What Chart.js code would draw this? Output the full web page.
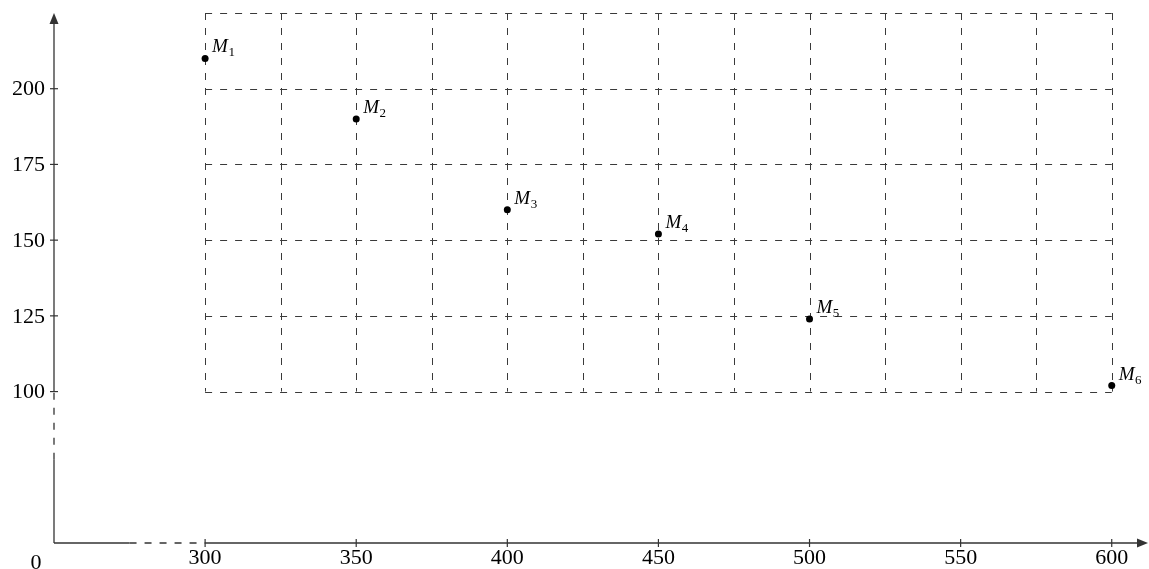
<!DOCTYPE html>
<html>
<head>
<meta charset="utf-8">
<script src="https://cdn.jsdelivr.net/npm/chart.js@4/dist/chart.umd.min.js"></script>
<style>
html,body{margin:0;padding:0;background:#fff;overflow:hidden;}
canvas{display:block;}
</style>
</head>
<body>
<canvas id="c" width="1149" height="569"></canvas>
<script>
// ---- data ----
const pointNames = ['1', '2', '3', '4', '5', '6'];
const xValues = [300, 350, 400, 450, 500, 600];
const yValues = [210, 190, 160, 152, 124, 102];
const xTickLabels = [300, 350, 400, 450, 500, 550, 600];
const yTickLabels = [100, 125, 150, 175, 200];
const gridXValues = [300, 325, 350, 375, 400, 425, 450, 475, 500, 525, 550, 575, 600];
const gridYValues = [100, 125, 150, 175, 200, 225];
const originLabel = '0';
const xBreak = [275, 300];
const yBreak = [77.5, 100];

const points = xValues.map((x, i) => ({x: x, y: yValues[i]}));

const AXIS = '#333';
const GRID = '#3a3a3a';
const DASH = [7, 8];
const NUMFONT = '22px "Liberation Serif", "Times New Roman", serif';

const drawPlugin = {
  id: 'custom',
  beforeDatasetsDraw(chart) {
    const ctx = chart.ctx;
    const xs = chart.scales.x, ys = chart.scales.y;
    const X = v => xs.getPixelForValue(v), Y = v => ys.getPixelForValue(v);
    ctx.save();
    // grid
    ctx.strokeStyle = GRID;
    ctx.lineWidth = 1;
    ctx.setLineDash(DASH);
    const gx0 = gridXValues[0], gx1 = gridXValues[gridXValues.length - 1];
    const gy0 = gridYValues[0], gy1 = gridYValues[gridYValues.length - 1];
    gridXValues.forEach(v => {
      ctx.beginPath();
      ctx.moveTo(Math.round(X(v)) + 0.5, Y(gy1));
      ctx.lineTo(Math.round(X(v)) + 0.5, Y(gy0));
      ctx.stroke();
    });
    gridYValues.forEach(v => {
      ctx.beginPath();
      ctx.moveTo(X(gx0), Math.round(Y(v)) + 0.5);
      ctx.lineTo(X(gx1), Math.round(Y(v)) + 0.5);
      ctx.stroke();
    });
    // axes
    const ox = xs.min, oy = ys.min;
    const px0 = X(ox), py0 = Y(oy);
    ctx.strokeStyle = AXIS;
    ctx.fillStyle = AXIS;
    ctx.lineWidth = 1.3;
    const seg = (x1, y1, x2, y2, dash) => {
      ctx.setLineDash(dash || []);
      ctx.beginPath(); ctx.moveTo(x1, y1); ctx.lineTo(x2, y2); ctx.stroke();
    };
    const xr = chart.chartArea.right - 9;
    seg(px0, py0, X(xBreak[0]), py0);
    seg(X(xBreak[0]), py0, X(xBreak[1]), py0, DASH);
    seg(X(xBreak[1]), py0, xr, py0);
    const yt = chart.chartArea.top + 9;
    seg(px0, py0, px0, Y(yBreak[0]));
    seg(px0, Y(yBreak[0]), px0, Y(yBreak[1]), DASH);
    seg(px0, Y(yBreak[1]), px0, yt);
    ctx.setLineDash([]);
    // arrows
    ctx.beginPath();
    ctx.moveTo(chart.chartArea.right, py0);
    ctx.lineTo(chart.chartArea.right - 11, py0 - 4.5);
    ctx.lineTo(chart.chartArea.right - 11, py0 + 4.5);
    ctx.closePath(); ctx.fill();
    ctx.beginPath();
    ctx.moveTo(px0, chart.chartArea.top);
    ctx.lineTo(px0 - 4.5, chart.chartArea.top + 11);
    ctx.lineTo(px0 + 4.5, chart.chartArea.top + 11);
    ctx.closePath(); ctx.fill();
    // ticks
    ctx.lineWidth = 1.2;
    xTickLabels.forEach(v => seg(X(v), py0 - 4, X(v), py0 + 4));
    yTickLabels.forEach(v => seg(px0 - 4, Y(v), px0 + 4, Y(v)));
    // labels
    ctx.fillStyle = '#000';
    ctx.font = NUMFONT;
    ctx.textAlign = 'center';
    ctx.textBaseline = 'top';
    xTickLabels.forEach(v => ctx.fillText(String(v), X(v), py0 + 4));
    ctx.fillText(originLabel, px0 - 18, py0 + 9);
    ctx.textAlign = 'right';
    ctx.textBaseline = 'middle';
    yTickLabels.forEach(v => ctx.fillText(String(v), px0 - 9, Y(v) + 1));
    ctx.restore();
  },
  afterDatasetsDraw(chart) {
    const ctx = chart.ctx;
    const meta = chart.getDatasetMeta(0);
    ctx.save();
    ctx.fillStyle = '#000';
    ctx.textAlign = 'left';
    ctx.textBaseline = 'alphabetic';
    meta.data.forEach((el, i) => {
      const x = el.x + 7, y = el.y - 6;
      ctx.font = 'italic 19px "Liberation Serif", "Times New Roman", serif';
      ctx.fillText('M', x, y);
      const w = ctx.measureText('M').width;
      ctx.font = '13px "Liberation Serif", "Times New Roman", serif';
      ctx.fillText(pointNames[i], x + w + 0.5, y + 4);
    });
    ctx.restore();
  }
};

new Chart(document.getElementById('c'), {
  type: 'scatter',
  data: {
    datasets: [{
      data: points,
      backgroundColor: '#000',
      borderColor: '#000',
      pointRadius: 3.5,
      pointHoverRadius: 3.5,
      borderWidth: 0
    }]
  },
  options: {
    responsive: false,
    animation: false,
    layout: {autoPadding: false, padding: {left: 54, right: 1, top: 13, bottom: 26}},
    plugins: {legend: {display: false}, tooltip: {enabled: false}},
    scales: {
      x: {type: 'linear', min: 250, max: 612, display: false},
      y: {type: 'linear', min: 50, max: 225, display: false}
    }
  },
  plugins: [drawPlugin]
});
</script>
</body>
</html>
